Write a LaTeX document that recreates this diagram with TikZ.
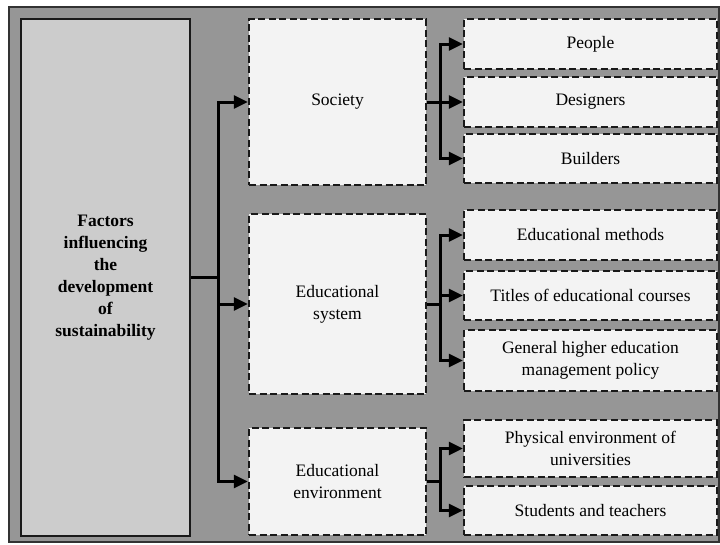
\documentclass[tikz,border=0pt]{standalone}
\usepackage{fontspec}
\setmainfont{Liberation Serif}
\usetikzlibrary{positioning,arrows.meta}
\definecolor{backgray}{HTML}{969696}
\definecolor{boxgray}{HTML}{CCCCCC}
\definecolor{paper}{HTML}{F3F3F3}

\begin{document}
\begin{tikzpicture}[x=1pt,y=-1pt,on grid,
	font=\fontsize{17.5}{22}\selectfont,
	main/.style={draw=black!90,line width=2.5pt,fill=boxgray,minimum width=169pt,minimum height=517pt,align=center,font=\fontsize{17.5}{22}\selectfont\bfseries},
	factor/.style={draw=black!90,line width=2.5pt,dash pattern=on 7pt off 3.5pt,fill=paper,minimum width=177pt,align=center},
	item/.style={factor,minimum width=253pt},
	link/.style={line width=3pt},
	arr/.style={link,-{Triangle[length=14pt,width=13pt]}}]

	\useasboundingbox (0,0) rectangle (720,544);
	\draw[line width=2pt,draw=black!80,fill=backgray] (9,7) rectangle (719,542);

	\node[main] (factors) at (105.5,277.5) {Factors\\influencing\\the\\development\\of\\sustainability};

	\node[factor,minimum height=166pt] (society) at (337.5,102) {Society};
	\node[factor,minimum height=180pt] (edusys) at (337.5,304) {Educational\\system};
	\node[factor,minimum height=107pt] (eduenv) at (337.5,481.5) {Educational\\environment};

	\node[item,minimum height=50pt] (people) at (590.5,44) {People};
	\node[item,minimum height=50pt] (designers) [below=58pt of people] {Designers};
	\node[item,minimum height=49pt] (builders) [below=56.5pt of designers] {Builders};
	\node[item,minimum height=50pt] (methods) at (590.5,235) {Educational methods};
	\node[item,minimum height=49pt] (titles) [below=60.5pt of methods] {Titles of educational courses};
	\node[item,minimum height=61pt] (policy) [below=65pt of titles] {General higher education\\management policy};
	\node[item,minimum height=57pt] (campus) at (590.5,448.5) {Physical environment of\\universities};
	\node[item,minimum height=49pt] (members) [below=62pt of campus] {Students and teachers};

	\draw[link] (factors.east) -- ++(27pt,0) coordinate (fork);
	\draw[arr] (fork) |- (society);
	\draw[arr] (fork) |- (edusys);
	\draw[arr] (fork) |- (eduenv);

	\draw[link] (society.east) -- ++(13pt,0) coordinate (socfork);
	\draw[arr] (socfork) |- (people);
	\draw[arr] (socfork) |- (designers);
	\draw[arr] (socfork) |- (builders);

	\draw[link] (edusys.east) -- ++(13pt,0) coordinate (sysfork);
	\draw[arr] (sysfork) |- (methods);
	\draw[arr] (sysfork) |- (titles);
	\draw[arr] (sysfork) |- (policy);

	\draw[link] (eduenv.east) -- ++(13pt,0) coordinate (envfork);
	\draw[arr] (envfork) |- (campus);
	\draw[arr] (envfork) |- (members);

\end{tikzpicture}
\end{document}
